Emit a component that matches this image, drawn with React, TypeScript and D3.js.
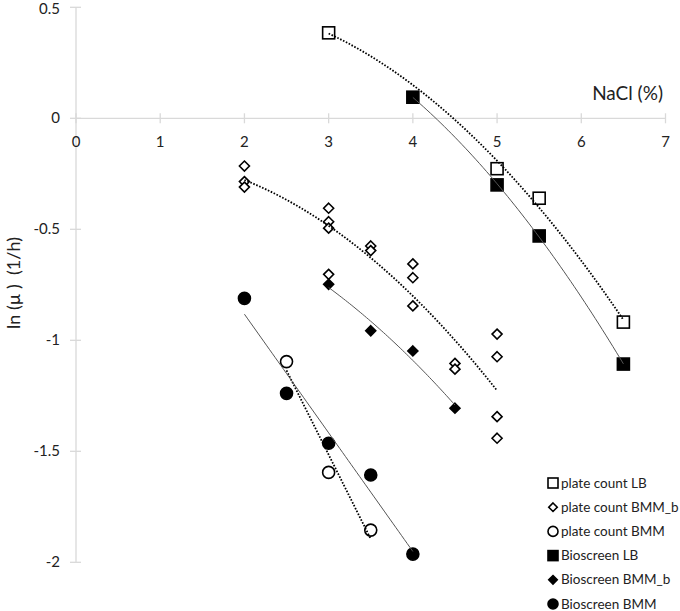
import React from "react";
import * as d3 from "d3";

const xTicks = [0, 1, 2, 3, 4, 5, 6, 7];
const yTicks = [0.5, 0, -0.5, -1, -1.5, -2];
const yTickLabels = ["0.5", "0", "-0.5", "-1", "-1.5", "-2"];

const plateLB_x = [3, 5, 5.5, 6.5];
const plateLB_y = [0.385, -0.227, -0.36, -0.918];
const bioLB_x = [4, 5, 5.5, 6.5];
const bioLB_y = [0.095, -0.3, -0.53, -1.107];
const plateBMMb_x = [2, 2, 2, 3, 3, 3, 3, 3.5, 3.5, 4, 4, 4, 4.5, 4.5, 5, 5, 5, 5];
const plateBMMb_y = [-0.215, -0.285, -0.31, -0.405, -0.466, -0.495, -0.703, -0.575, -0.596, -0.656, -0.718, -0.845, -1.104, -1.13, -0.972, -1.074, -1.344, -1.441];
const bioBMMb_x = [3, 3.5, 4, 4.5];
const bioBMMb_y = [-0.748, -0.957, -1.048, -1.306];
const plateBMM_x = [2.5, 3, 3.5];
const plateBMM_y = [-1.096, -1.595, -1.855];
const bioBMM_x = [2, 2.5, 3, 3.5, 4];
const bioBMM_y = [-0.811, -1.239, -1.464, -1.607, -1.963];

const legendLabels = ["plate count LB", "plate count BMM_b", "plate count BMM", "Bioscreen LB", "Bioscreen BMM_b", "Bioscreen BMM"];

type Series = { xs: number[]; ys: number[]; shape: string; filled: boolean; deg: number; dotted: boolean };
const series: Series[] = [
  { xs: plateLB_x, ys: plateLB_y, shape: "square", filled: false, deg: 2, dotted: true },
  { xs: plateBMMb_x, ys: plateBMMb_y, shape: "diamond", filled: false, deg: 2, dotted: true },
  { xs: plateBMM_x, ys: plateBMM_y, shape: "circle", filled: false, deg: 1, dotted: true },
  { xs: bioLB_x, ys: bioLB_y, shape: "square", filled: true, deg: 2, dotted: false },
  { xs: bioBMMb_x, ys: bioBMMb_y, shape: "diamond", filled: true, deg: 2, dotted: false },
  { xs: bioBMM_x, ys: bioBMM_y, shape: "circle", filled: true, deg: 1, dotted: false },
];

function polyfit(xs: number[], ys: number[], deg: number): number[] {
  const n = deg + 1;
  const A: number[][] = Array.from({ length: n }, () => new Array(n + 1).fill(0));
  for (let k = 0; k < xs.length; k++) {
    for (let i = 0; i < n; i++) {
      for (let j = 0; j < n; j++) A[i][j] += Math.pow(xs[k], i + j);
      A[i][n] += ys[k] * Math.pow(xs[k], i);
    }
  }
  for (let i = 0; i < n; i++) {
    let p = i;
    for (let r = i + 1; r < n; r++) if (Math.abs(A[r][i]) > Math.abs(A[p][i])) p = r;
    [A[i], A[p]] = [A[p], A[i]];
    for (let r = 0; r < n; r++) {
      if (r === i) continue;
      const f = A[r][i] / A[i][i];
      for (let c = i; c <= n; c++) A[r][c] -= f * A[i][c];
    }
  }
  return A.map((row, i) => row[n] / row[i]);
}

const x = d3.scaleLinear().domain([0, 7]).range([76, 665.5]);
const y = d3.scaleLinear().domain([0.5, -2]).range([7.3, 562.3]);

function Marker({ shape, filled, cx, cy, s }: { shape: string; filled: boolean; cx: number; cy: number; s: number }) {
  const fill = filled ? "#000" : "#fff";
  const sw = 1.6;
  if (shape === "square") {
    return <rect x={cx - s / 2} y={cy - s / 2} width={s} height={s} fill={fill} stroke="#000" strokeWidth={sw} />;
  }
  if (shape === "diamond") {
    const h = s / 2;
    return <path d={`M${cx},${cy - h}L${cx + h},${cy}L${cx},${cy + h}L${cx - h},${cy}Z`} fill={fill} stroke="#000" strokeWidth={sw} />;
  }
  return <circle cx={cx} cy={cy} r={s / 2} fill={fill} stroke="#000" strokeWidth={sw} />;
}

const sizes: Record<string, number> = { square: 12, diamond: 10, circle: 12 };

export default function App() {
  const font = "Lato, 'Open Sans', sans-serif";
  return (
    <svg width={680} height={611} style={{ position: "absolute", left: 0, top: 0, background: "#fff" }} fontFamily={font}>
      {/* axes */}
      <line x1={x(0)} x2={x(7)} y1={y(0)} y2={y(0)} stroke="#d9d9d9" strokeWidth={1.3} />
      <line x1={x(0)} x2={x(0)} y1={y(0.5)} y2={y(-2)} stroke="#d9d9d9" strokeWidth={1.3} />
      {xTicks.map((t) => (
        <g key={"xt" + t}>
          <line x1={x(t)} x2={x(t)} y1={y(0) - 5} y2={y(0) + 5} stroke="#d9d9d9" strokeWidth={1.3} />
          <text x={x(t)} y={y(0) + 29} textAnchor="middle" fontSize={15} fill="#222">{t}</text>
        </g>
      ))}
      {yTicks.map((t, i) => (
        <g key={"yt" + t}>
          <line x1={x(0) - 6} x2={x(0) + 5} y1={y(t)} y2={y(t)} stroke="#d9d9d9" strokeWidth={1.3} />
          <text x={60} y={Math.max(y(t) + 5, 14)} textAnchor="end" fontSize={15} fill="#222">{yTickLabels[i]}</text>
        </g>
      ))}
      <text x={663} y={100} textAnchor="end" fontSize={19} fill="#222">NaCl (%)</text>
      <text transform={`translate(20,283) rotate(-90)`} textAnchor="middle" fontSize={18} fill="#222" xmlSpace="preserve">ln (µ )  (1/h)</text>

      {/* markers */}
      {series.map((s, si) =>
        s.xs.map((xv, i) => (
          <Marker key={`m${si}-${i}`} shape={s.shape} filled={s.filled} cx={x(xv)} cy={y(s.ys[i])} s={sizes[s.shape]} />
        ))
      )}

      {/* trend lines */}
      {series.map((s, si) => {
        const c = polyfit(s.xs, s.ys, s.deg);
        const [lo, hi] = d3.extent(s.xs) as [number, number];
        const pts = d3.range(0, 61).map((k) => lo + ((hi - lo) * k) / 60);
        const path = d3
          .line<number>()
          .x((v) => x(v))
          .y((v) => y(c.reduce((acc, ci, p) => acc + ci * Math.pow(v, p), 0)))(pts);
        return (
          <path
            key={"l" + si}
            d={path || ""}
            fill="none"
            stroke={s.dotted ? "#000" : "#555"}
            strokeWidth={s.dotted ? 1.8 : 1}
            strokeDasharray={s.dotted ? "1.6 1.6" : undefined}
          />
        );
      })}

      {/* legend */}
      {series.map((s, i) => {
        const ly = 483 + i * 24.2;
        const ls = s.shape === "diamond" ? 8.5 : 10;
        return (
          <g key={"lg" + i}>
            <Marker shape={s.shape} filled={s.filled} cx={553} cy={ly} s={ls} />
            <text x={561} y={ly + 4.5} fontSize={13.5} fill="#222">{legendLabels[i]}</text>
          </g>
        );
      })}
    </svg>
  );
}
